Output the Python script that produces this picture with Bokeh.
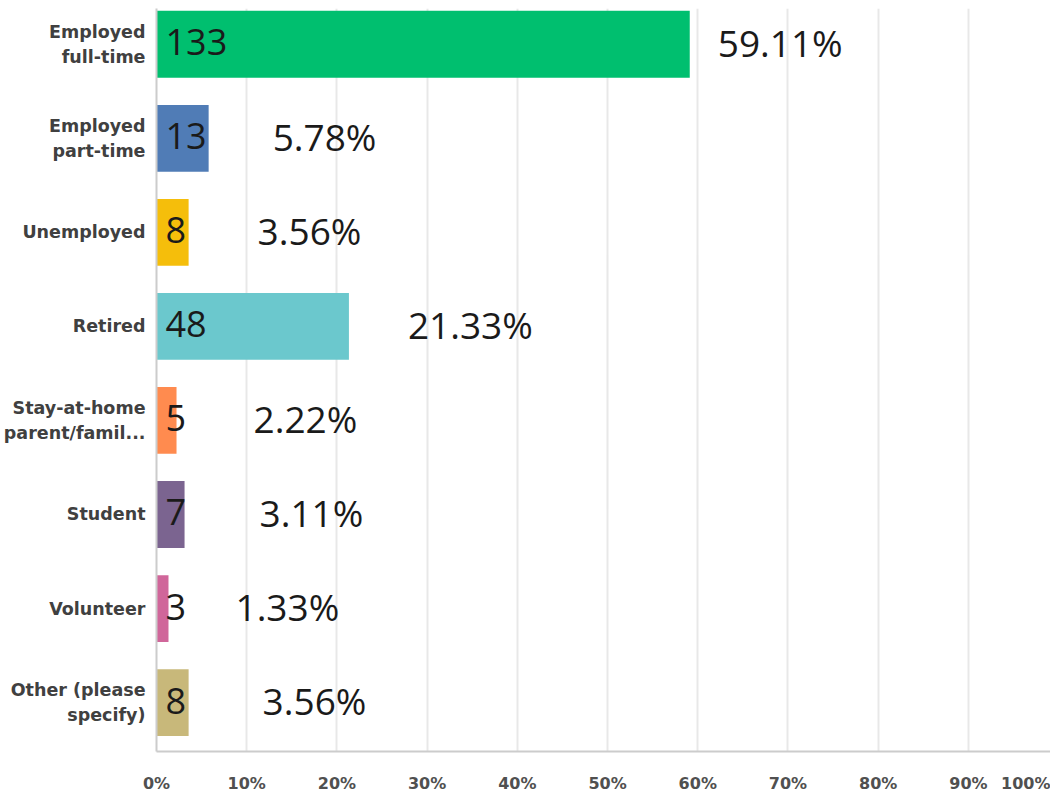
from bokeh.plotting import figure
from bokeh.models import ColumnDataSource, Range1d, FixedTicker
from bokeh.core.properties import value
from bokeh.embed import file_html
from bokeh.resources import INLINE

categories = ["Employed\nfull-time", "Employed\npart-time", "Unemployed", "Retired",
              "Stay-at-home\nparent/famil...", "Student", "Volunteer", "Other (please\nspecify)"]
counts = [133, 13, 8, 48, 5, 7, 3, 8]
percents = [59.11, 5.78, 3.56, 21.33, 2.22, 3.11, 1.33, 3.56]
x_ticks = [0, 10, 20, 30, 40, 50, 60, 70, 80, 90, 100]

# styling / layout
colors = ["#00BF6F", "#507CB6", "#F5BE0B", "#6BC8CD", "#FF8B4F", "#7B6490", "#D0669A", "#C8B87A"]
pct_label_dx = [28, 64, 69, 59, 77, 75, 67, 74]
x_view_end = 99.1            # frame ends just short of 100%
last_label_pos = 96.7        # the "100%" label is pulled inside the frame

ypos = list(range(len(categories)))
src = ColumnDataSource(dict(
    y=ypos, pct=percents, color=colors,
    count=[str(c) for c in counts],
    pct_txt=[f"{v:.2f}%" for v in percents],
    dx=pct_label_dx,
))

p = figure(width=1050, height=795, output_backend="svg", toolbar_location=None,
           x_range=Range1d(0, x_view_end), y_range=Range1d(len(categories) - 1 + 0.52, -0.38),
           min_border_left=156, min_border_right=0, min_border_top=8, min_border_bottom=42)
p.outline_line_color = None

p.hbar(y="y", left=0, right="pct", height=0.71, fill_color="color", line_color=None, source=src)

p.text(x=0, y="y", text="count", x_offset=9, y_offset=-2, text_baseline="middle", text_align="left",
       text_font=value("Open Sans"), text_font_size="36px", text_color="#1a1a1a", source=src)
p.text(x="pct", y="y", text="pct_txt", x_offset="dx", y_offset=-2, text_baseline="middle", text_align="left",
       text_font=value("Open Sans"), text_font_size="37px", text_color="#1a1a1a", source=src)

# x axis (labels only; the last label is drawn inside the frame)
label_ticks = x_ticks[:-1] + [last_label_pos]
labels = {t: f"{t}%" for t in x_ticks[:-1]}
labels[last_label_pos] = f"{x_ticks[-1]}%"
xa = p.xaxis[0]
xa.ticker = FixedTicker(ticks=label_ticks)
xa.major_label_overrides = labels
xa.axis_line_color = "#cccccc"
xa.axis_line_width = 2
xa.major_tick_line_color = None
xa.major_tick_out = 0
xa.major_tick_in = 0
xa.minor_tick_line_color = None
xa.major_label_text_font = "DejaVu Sans"
xa.major_label_text_font_style = "bold"
xa.major_label_text_font_size = "16px"
xa.major_label_text_color = "#505050"
xa.major_label_standoff = 22

# y axis
ya = p.yaxis[0]
ya.ticker = FixedTicker(ticks=ypos)
ya.major_label_overrides = {i: c for i, c in zip(ypos, categories)}
ya.axis_line_color = "#cccccc"
ya.axis_line_width = 2
ya.major_tick_line_color = None
ya.major_tick_out = 0
ya.major_tick_in = 0
ya.minor_tick_line_color = None
ya.major_label_text_font = "DejaVu Sans"
ya.major_label_text_font_style = "bold"
ya.major_label_text_font_size = "17.5px"
ya.major_label_text_color = "#404040"
ya.major_label_text_line_height = 1.25
ya.major_label_standoff = 11

p.xgrid.ticker = FixedTicker(ticks=x_ticks)
p.xgrid.grid_line_color = "#e8e8e8"
p.xgrid.grid_line_width = 2
p.ygrid.grid_line_color = None

open("out.html", "w").write(file_html(p, INLINE))
